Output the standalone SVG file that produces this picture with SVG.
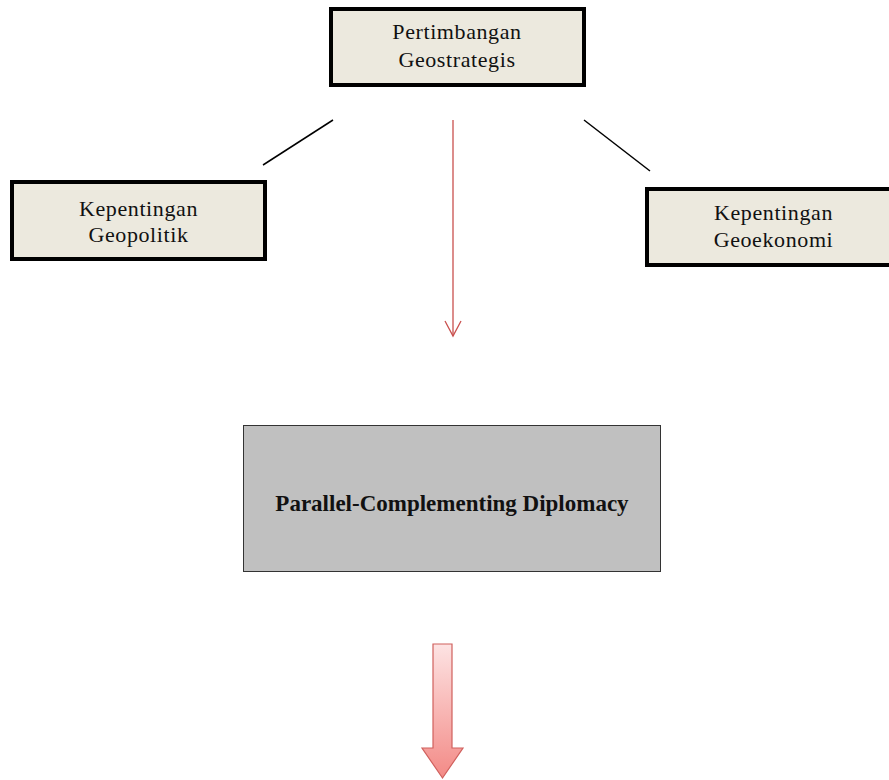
<svg xmlns="http://www.w3.org/2000/svg" width="889" height="780" viewBox="0 0 889 780">
<style>
.box{fill:#ece9de;stroke:#000;stroke-width:4}
.t{font-family:"Liberation Serif","Times New Roman",serif;font-size:22px;letter-spacing:0.6px;fill:#111;text-anchor:middle}
.b{font-family:"Liberation Serif","Times New Roman",serif;font-size:23px;font-weight:bold;fill:#111;text-anchor:middle}
.ln{stroke:#000;stroke-width:1.5;fill:none}
</style>
<defs>
<linearGradient id="g" x1="0" y1="0" x2="0" y2="1">
<stop offset="0" stop-color="#fde3e3"/>
<stop offset="1" stop-color="#f38a86"/>
</linearGradient>
</defs>
<rect width="889" height="780" fill="#fff"/>
<g id="connectors">
<line class="ln" x1="263" y1="165" x2="333" y2="120"/>
<line class="ln" x1="584" y1="120" x2="650" y2="171"/>
<line x1="453" y1="120" x2="453" y2="336" stroke="#c9504e" stroke-width="1.3"/>
<polyline points="445,321 453,336 461,321" fill="none" stroke="#c9504e" stroke-width="1.3"/>
<path d="M433,644 H452 V748 H463 L442.5,778 L422,748 H433 Z" fill="url(#g)" stroke="#d0605d" stroke-width="1.2"/>
</g>
<g id="geostrategis">
<rect class="box" x="331" y="9" width="253" height="76"/>
<text class="t" x="457" y="39">Pertimbangan</text>
<text class="t" x="457" y="67">Geostrategis</text>
</g>
<g id="geopolitik">
<rect class="box" x="12" y="182" width="253" height="77"/>
<text class="t" x="138.5" y="216">Kepentingan</text>
<text class="t" x="138.5" y="242">Geopolitik</text>
</g>
<g id="geoekonomi">
<rect class="box" x="647" y="189" width="250" height="76"/>
<text class="t" x="773.5" y="220">Kepentingan</text>
<text class="t" x="773.5" y="247">Geoekonomi</text>
</g>
<g id="diplomacy">
<rect x="243.5" y="425.5" width="417" height="146" fill="#c0c0c0" stroke="#333" stroke-width="1"/>
<text class="b" x="452" y="511">Parallel-Complementing Diplomacy</text>
</g>
</svg>
